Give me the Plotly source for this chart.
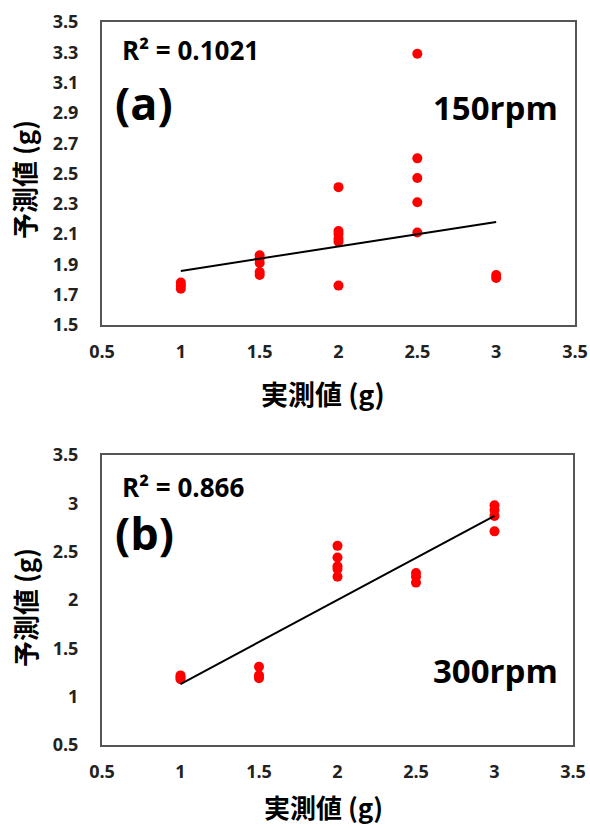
import plotly.graph_objects as go

# ---- data (a) 150rpm ----
a_x = [1, 1, 1, 1.5, 1.5, 1.5, 1.5, 1.5, 2, 2, 2, 2, 2, 2, 2.5, 2.5, 2.5, 2.5, 2.5, 3, 3]
a_y = [1.78, 1.76, 1.74, 1.96, 1.94, 1.91, 1.85, 1.83, 2.41, 2.12, 2.10, 2.07, 2.05, 1.76,
       3.29, 2.60, 2.47, 2.31, 2.11, 1.83, 1.81]
a_trend_x = [1, 3]
a_trend_y = [1.857, 2.18]
a_r2 = "R² = 0.1021"

# ---- data (b) 300rpm ----
b_x = [1, 1, 1, 1.5, 1.5, 1.5, 2, 2, 2, 2, 2, 2.5, 2.5, 2.5, 3, 3, 3, 3]
b_y = [1.22, 1.20, 1.18, 1.31, 1.22, 1.19, 2.56, 2.44, 2.35, 2.32, 2.24, 2.28, 2.24, 2.18,
       2.98, 2.93, 2.87, 2.71]
b_trend_x = [1, 3]
b_trend_y = [1.13, 2.87]
b_r2 = "R² = 0.866"

x_ticks = [0.5, 1, 1.5, 2, 2.5, 3, 3.5]
x_tick_text = ["0.5", "1", "1.5", "2", "2.5", "3", "3.5"]
a_y_ticks = [1.5, 1.7, 1.9, 2.1, 2.3, 2.5, 2.7, 2.9, 3.1, 3.3, 3.5]
b_y_ticks = [0.5, 1, 1.5, 2, 2.5, 3, 3.5]
b_y_tick_text = ["0.5", "1", "1.5", "2", "2.5", "3", "3.5"]

FONT = "Open Sans, Noto Sans CJK JP, sans-serif"
CJK = "Noto Sans CJK JP, sans-serif"
RED = "#ff0000"

fig = go.Figure()
fig.add_trace(go.Scatter(x=a_x, y=a_y, mode="markers", marker=dict(color=RED, size=10),
                         xaxis="x", yaxis="y", showlegend=False))
fig.add_trace(go.Scatter(x=a_trend_x, y=a_trend_y, mode="lines", line=dict(color="black", width=2),
                         xaxis="x", yaxis="y", showlegend=False))
fig.add_trace(go.Scatter(x=b_x, y=b_y, mode="markers", marker=dict(color=RED, size=10),
                         xaxis="x2", yaxis="y2", showlegend=False))
fig.add_trace(go.Scatter(x=b_trend_x, y=b_trend_y, mode="lines", line=dict(color="black", width=2),
                         xaxis="x2", yaxis="y2", showlegend=False))

tickfont = dict(family=FONT, size=18, color="#222222", weight="bold")
axis_common = dict(showgrid=False, zeroline=False, showline=True, mirror=True,
                   linecolor="#555555", linewidth=2, ticks="", tickfont=tickfont, automargin=False)

fig.update_layout(
    width=590, height=828,
    margin=dict(l=0, r=0, t=0, b=0, autoexpand=False),
    paper_bgcolor="white", plot_bgcolor="white",
    xaxis=dict(domain=[102/590, 575/590], range=[0.5, 3.5], tickvals=x_ticks, ticktext=x_tick_text,
               anchor="y", ticklabelstandoff=9, **axis_common),
    yaxis=dict(domain=[1-325/828, 1-22/828], range=[1.5, 3.5], tickvals=a_y_ticks,
               ticktext=[f"{v:.1f}" for v in a_y_ticks], anchor="x", ticklabelstandoff=18, **axis_common),
    xaxis2=dict(domain=[102/590, 573/590], range=[0.5, 3.5], tickvals=x_ticks, ticktext=x_tick_text,
                anchor="y2", ticklabelstandoff=9, **axis_common),
    yaxis2=dict(domain=[1-745/828, 1-455/828], range=[0.5, 3.5], tickvals=b_y_ticks,
                ticktext=b_y_tick_text, anchor="x2", ticklabelstandoff=18, **axis_common),
)

def ann(text, x, y, size, family=FONT, xanchor="left", textangle=0):
    fig.add_annotation(text=text, x=x/590, y=1-y/828, xref="paper", yref="paper",
                       xanchor=xanchor, yanchor="middle", showarrow=False, textangle=textangle,
                       borderpad=0, borderwidth=0,
                       font=dict(family=family, size=size, color="black", weight="bold"))

# panel (a)
ann(a_r2, 122, 50, 26)
ann("(a)", 115, 102, 45)
ann("150rpm", 558, 107, 33, xanchor="right")
ann("予測値 (g)", 24, 180, 26, family=CJK, xanchor="center", textangle=-90)
ann("実測値 (g)", 323, 393, 27, family=CJK, xanchor="center")
# panel (b)
ann(b_r2, 122, 487, 26)
ann("(b)", 115, 532, 45)
ann("300rpm", 558, 670, 33, xanchor="right")
ann("予測値 (g)", 24, 608, 26, family=CJK, xanchor="center", textangle=-90)
ann("実測値 (g)", 323, 806, 26, family=CJK, xanchor="center")

fig.write_html("out.html", config={"displayModeBar": False},
               post_script="document.body.style.margin='0';document.documentElement.style.overflow='hidden';")
